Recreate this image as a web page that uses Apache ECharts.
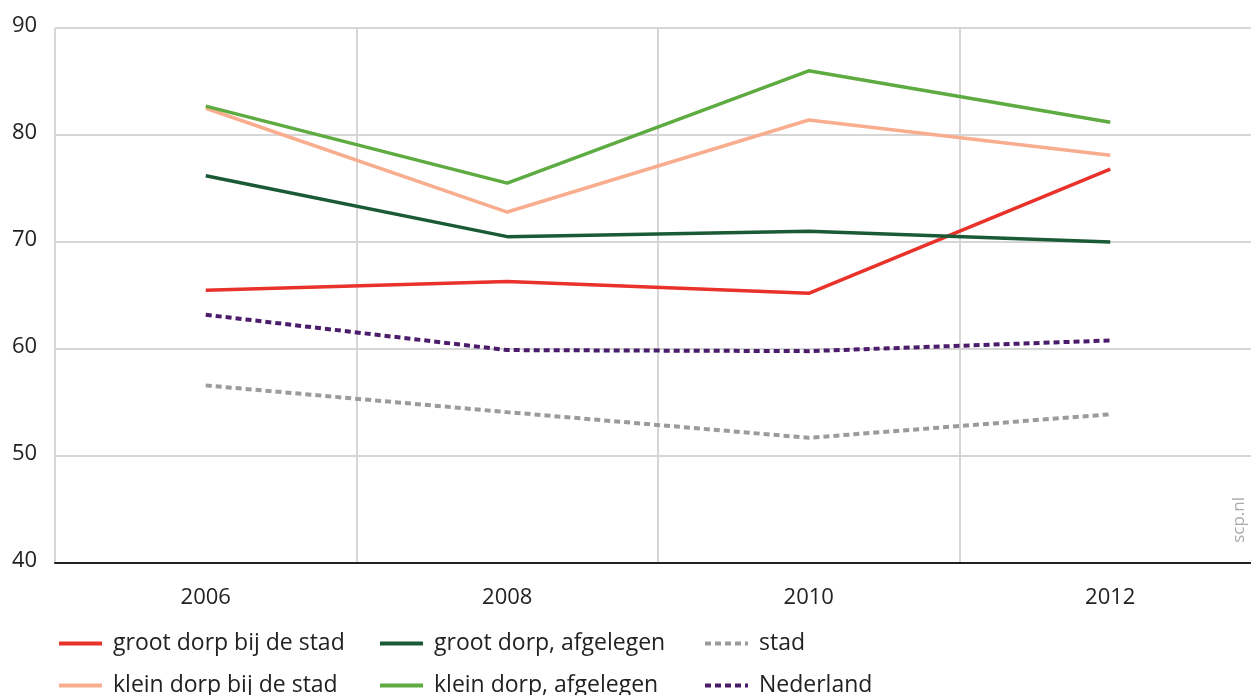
<!DOCTYPE html>
<html>
<head>
<meta charset="utf-8">
<script src="https://cdn.jsdelivr.net/npm/echarts@6/dist/echarts.min.js"></script>
<style>
  html, body { margin: 0; padding: 0; background: #fff; overflow: hidden; }
  #chart { width: 1261px; height: 695px; }
</style>
</head>
<body>
<div id="chart"></div>
<script>
const years = ['2006', '2008', '2010', '2012'];

const grootDorpBijStad = [65.5, 66.3, 65.2, 76.8];
const kleinDorpBijStad = [82.5, 72.8, 81.4, 78.1];
const grootDorpAfgelegen = [76.2, 70.5, 71.0, 70.0];
const kleinDorpAfgelegen = [82.7, 75.5, 86.0, 81.2];
const stad = [56.6, 54.1, 51.7, 53.9];
const nederland = [63.2, 59.9, 59.8, 60.8];

const chart = echarts.init(document.getElementById('chart'));

const font = '"Open Sans", "Noto Sans", sans-serif';

function line(name, data, color, dashed) {
  return {
    name: name,
    type: 'line',
    data: data,
    symbol: 'none',
    lineStyle: {
      color: color,
      width: dashed ? 4 : 3.5,
      type: dashed ? [6, 4] : 'solid'
    },
    itemStyle: { color: color }
  };
}

function legendCol(left, names) {
  return {
    orient: 'vertical',
    left: left,
    top: 632,
    height: 80,
    padding: 0,
    itemWidth: 43,
    itemHeight: 14,
    itemGap: 19,
    itemStyle: { opacity: 0 },
    lineStyle: { width: 4 },
    data: names,
    textStyle: { fontFamily: font, fontSize: 23, color: '#222', padding: [0, 0, 0, 6] }
  };
}

const option = {
  animation: false,
  grid: { left: 55, right: 0, top: 28, bottom: 132 },
  xAxis: {
    type: 'category',
    data: years,
    boundaryGap: true,
    axisLine: { lineStyle: { color: '#222', width: 2 } },
    axisTick: { alignWithLabel: true, length: 8, lineStyle: { color: '#222', width: 2 } },
    axisLabel: { fontFamily: font, fontSize: 22, color: '#222', margin: 24 },
    splitLine: { show: true, lineStyle: { color: '#d6d6d6', width: 2 } }
  },
  yAxis: {
    type: 'value',
    min: 40,
    max: 90,
    interval: 10,
    axisLine: { show: false },
    axisTick: { show: false },
    axisLabel: { fontFamily: font, fontSize: 22, color: '#222', align: 'left', margin: 43, verticalAlign: 'bottom', padding: [0, 0, -9, 0] },
    splitLine: { lineStyle: { color: '#d6d6d6', width: 2 } }
  },
  legend: [
    legendCol(57, ['groot dorp bij de stad', 'klein dorp bij de stad']),
    legendCol(378, ['groot dorp, afgelegen', 'klein dorp, afgelegen']),
    legendCol(703, ['stad', 'Nederland'])
  ],
  graphic: [{
    type: 'text',
    left: 1231,
    top: 497,
    rotation: Math.PI / 2,
    style: { text: 'scp.nl', fontFamily: font, fontSize: 17, fill: '#aaa' }
  }],
  series: [
    line('groot dorp bij de stad', grootDorpBijStad, '#e8322a'),
    line('klein dorp bij de stad', kleinDorpBijStad, '#f8ad8e'),
    line('groot dorp, afgelegen', grootDorpAfgelegen, '#1b5a36'),
    line('klein dorp, afgelegen', kleinDorpAfgelegen, '#5eab42'),
    line('stad', stad, '#9b9b9b', true),
    line('Nederland', nederland, '#4b1c6c', true)
  ]
};

chart.setOption(option);
</script>
</body>
</html>
